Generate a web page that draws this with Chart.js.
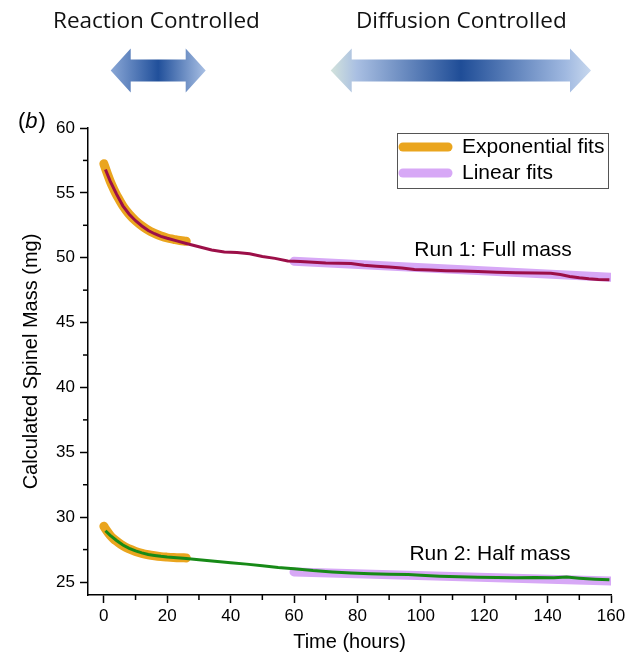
<!DOCTYPE html>
<html><head><meta charset="utf-8">
<script src="https://cdn.jsdelivr.net/npm/chart.js@4.4.1/dist/chart.umd.min.js"></script>
<style>html,body{margin:0;padding:0;background:#fff;}canvas{display:block;}</style>
</head><body>
<canvas id="c" width="634" height="658"></canvas>
<script>
// ---- data ----
const run1Time = [0.5,2,4,6,8,10,12,14,16,18,20,23,26,30,34,38,42,46,50,54,58,62,66,70,74,78,82,86,90,94,98,103,108,113,118,124,130,136,141,144,147,150,153,156,159.5];
const run1Mass = [56.8,55.9,54.9,54.0,53.35,52.85,52.45,52.1,51.85,51.65,51.5,51.3,51.1,50.85,50.6,50.45,50.4,50.3,50.1,49.95,49.75,49.7,49.65,49.6,49.58,49.55,49.42,49.35,49.28,49.2,49.1,49.05,49.0,48.97,48.93,48.88,48.85,48.83,48.8,48.7,48.56,48.45,48.38,48.33,48.3];
const run2Time = [0.5,2,4,6,8,10,12,14,16,18,20,23,26,30,35,40,45,50,55,60,66,72,78,84,90,96,100,106,112,118,124,130,136,142,146,150,155,159.5];
const run2Mass = [28.95,28.6,28.2,27.85,27.6,27.4,27.25,27.12,27.05,26.98,26.93,26.88,26.82,26.72,26.6,26.48,26.38,26.25,26.12,26.02,25.88,25.78,25.7,25.64,25.6,25.58,25.52,25.45,25.4,25.37,25.35,25.33,25.35,25.33,25.38,25.3,25.22,25.17];
const expFitTime = [0,1,2,3,4,6,8,10,12,14,16,18,20,22,24,26];
const expFit1Mass = [57.25,56.55,55.9,55.35,54.85,54.0,53.35,52.85,52.45,52.12,51.88,51.68,51.52,51.42,51.33,51.27];
const expFit2Mass = [29.3,28.92,28.6,28.35,28.15,27.8,27.55,27.36,27.21,27.1,27.02,26.96,26.92,26.89,26.87,26.86];
const linFitTime = [60,160];
const linFit1Mass = [49.72,48.5];
const linFit2Mass = [25.78,25.08];
const xMajorTicks = [0,20,40,60,80,100,120,140,160];
const xMinorTicks = [10,30,50,70,90,110,130,150];
const yMajorTicks = [25,30,35,40,45,50,55,60];
const yMinorTicks = [27.5,32.5,37.5,42.5,47.5,52.5,57.5];
const legendLabels = ['Exponential fits','Linear fits'];
const runLabels = ['Run 1: Full mass','Run 2: Half mass'];
const runLabelPos = [[122.8,50.6],[121.8,27.13]];
const headerLabels = ['Reaction Controlled','Diffusion Controlled'];

const pts = (xs, ys) => xs.map((x,i)=>({x, y: ys[i]}));
const C_RUN1 = '#9c0f48', C_RUN2 = '#178a17', C_EXP = '#eaa51e', C_LIN = '#d7a8f6';

Chart.defaults.font.family = "'Liberation Sans', Arial, sans-serif";
Chart.defaults.color = '#000';

function drawArrow(ctx, x1, x2, cy, headLen, headHalf, shaftHalf, stops){
  const g = ctx.createLinearGradient(x1,0,x2,0);
  stops.forEach(s=>g.addColorStop(s[0], s[1]));
  ctx.beginPath();
  ctx.moveTo(x1, cy);
  ctx.lineTo(x1+headLen, cy-headHalf);
  ctx.lineTo(x1+headLen, cy-shaftHalf);
  ctx.lineTo(x2-headLen, cy-shaftHalf);
  ctx.lineTo(x2-headLen, cy-headHalf);
  ctx.lineTo(x2, cy);
  ctx.lineTo(x2-headLen, cy+headHalf);
  ctx.lineTo(x2-headLen, cy+shaftHalf);
  ctx.lineTo(x1+headLen, cy+shaftHalf);
  ctx.lineTo(x1+headLen, cy+headHalf);
  ctx.closePath();
  ctx.fillStyle = g;
  ctx.fill();
}

const deco = {
  id: 'deco',
  beforeDraw(chart){
    const ctx = chart.ctx;
    ctx.save(); ctx.fillStyle = '#fff'; ctx.fillRect(0,0,chart.width,chart.height); ctx.restore();
  },
  afterDraw(chart){
    const ctx = chart.ctx, xs = chart.scales.x, ys = chart.scales.y;
    ctx.save();
    // minor ticks
    ctx.strokeStyle = '#000'; ctx.lineWidth = 1.5;
    xMinorTicks.forEach(v=>{const p = xs.getPixelForValue(v); ctx.beginPath(); ctx.moveTo(p, xs.top); ctx.lineTo(p, xs.top+5); ctx.stroke();});
    yMinorTicks.forEach(v=>{const p = ys.getPixelForValue(v); ctx.beginPath(); ctx.moveTo(ys.right, p); ctx.lineTo(ys.right-5, p); ctx.stroke();});

    // header
    ctx.fillStyle = '#111';
    ctx.textBaseline = 'middle'; ctx.textAlign = 'left';
    ctx.font = "22px 'Open Sans', sans-serif";
    const w0 = ctx.measureText(headerLabels[0]).width;
    const fs = 22 * 207 / w0;
    ctx.font = fs.toFixed(2) + "px 'Open Sans', sans-serif";
    ctx.fillText(headerLabels[0], 53, 22);
    ctx.fillText(headerLabels[1], 356, 22);

    drawArrow(ctx, 110.7, 205.7, 70.5, 20, 22, 11,
      [[0,'#8aa7d6'],[0.5,'#21509b'],[1,'#a9c0e4']]);
    drawArrow(ctx, 330.7, 591, 70.5, 21, 22, 11,
      [[0,'#d3e3dc'],[0.1,'#a9bfe2'],[0.5,'#1f4d97'],[0.9,'#9fb8e0'],[1,'#c8d8ee']]);

    // (b)
    ctx.fillStyle = '#000';
    ctx.font = "22px 'Liberation Sans', Arial, sans-serif";
    ctx.fillText('(', 18, 122);
    let wx = 18 + ctx.measureText('(').width;
    ctx.font = "italic 22px 'Liberation Sans', Arial, sans-serif";
    ctx.fillText('b', wx, 122);
    wx += ctx.measureText('b').width + 1;
    ctx.font = "22px 'Liberation Sans', Arial, sans-serif";
    ctx.fillText(')', wx, 122);

    // run labels
    ctx.font = "21px 'Liberation Sans', Arial, sans-serif";
    ctx.textAlign = 'center';
    runLabels.forEach((t,i)=>{
      ctx.fillText(t, xs.getPixelForValue(runLabelPos[i][0]), ys.getPixelForValue(runLabelPos[i][1]));
    });

    // legend
    ctx.textAlign = 'left';
    ctx.strokeStyle = '#555'; ctx.lineWidth = 1;
    ctx.strokeRect(397.5, 133.5, 211, 55);
    const legCols = [C_EXP, C_LIN];
    legendLabels.forEach((t,i)=>{
      const y = 147 + i*26;
      ctx.strokeStyle = legCols[i]; ctx.lineWidth = 9; ctx.lineCap = 'round';
      ctx.beginPath(); ctx.moveTo(403, y); ctx.lineTo(448, y); ctx.stroke();
      ctx.fillStyle = '#000';
      ctx.fillText(t, 462, y);
    });
    ctx.restore();
  }
};

new Chart(document.getElementById('c'), {
  type: 'line',
  data: {
    datasets: [
      {label:'Run 1', data: pts(run1Time, run1Mass), borderColor: C_RUN1, borderWidth: 3, pointRadius: 0, tension: 0},
      {label:'Run 2', data: pts(run2Time, run2Mass), borderColor: C_RUN2, borderWidth: 3, pointRadius: 0, tension: 0},
      {label:'Exponential fit 1', data: pts(expFitTime, expFit1Mass), borderColor: C_EXP, borderWidth: 9, borderCapStyle:'round', borderJoinStyle:'round', pointRadius: 0, tension: 0.4},
      {label:'Exponential fit 2', data: pts(expFitTime, expFit2Mass), borderColor: C_EXP, borderWidth: 9, borderCapStyle:'round', borderJoinStyle:'round', pointRadius: 0, tension: 0.4},
      {label:'Linear fit 1', data: pts(linFitTime, linFit1Mass), borderColor: C_LIN, borderWidth: 9, borderCapStyle:'round', pointRadius: 0},
      {label:'Linear fit 2', data: pts(linFitTime, linFit2Mass), borderColor: C_LIN, borderWidth: 9, borderCapStyle:'round', pointRadius: 0}
    ]
  },
  options: {
    responsive: false,
    devicePixelRatio: 1,
    animation: false,
    layout: {padding: {top: 128, right: 23, left: 0, bottom: 0}},
    plugins: {legend: {display: false}, tooltip: {enabled: false}},
    scales: {
      x: {
        type: 'linear', min: -5, max: 160,
        afterFit(s){ s.height = 63; },
        afterBuildTicks(s){ s.ticks = xMajorTicks.map(v=>({value:v})); },
        grid: {drawOnChartArea: false, drawTicks: true, tickLength: 8, tickColor: '#000', tickWidth: 1.5},
        border: {display: true, color: '#000', width: 1.5},
        ticks: {font: {size: 17}, color: '#000', padding: 3, maxRotation: 0},
        title: {display: true, text: 'Time (hours)', font: {size: 20}, color: '#000', padding: {top: 4, bottom: 4}}
      },
      y: {
        type: 'linear', min: 24, max: 60,
        afterFit(s){ s.width = 88; },
        afterBuildTicks(s){ s.ticks = yMajorTicks.map(v=>({value:v})); },
        grid: {drawOnChartArea: false, drawTicks: true, tickLength: 8, tickColor: '#000', tickWidth: 1.5},
        border: {display: true, color: '#000', width: 1.5},
        ticks: {font: {size: 17}, color: '#000', padding: 5},
        title: {display: true, text: 'Calculated Spinel Mass (mg)', font: {size: 20}, color: '#000', padding: {top: 19, bottom: 19}}
      }
    }
  },
  plugins: [deco]
});
</script>
</body></html>
